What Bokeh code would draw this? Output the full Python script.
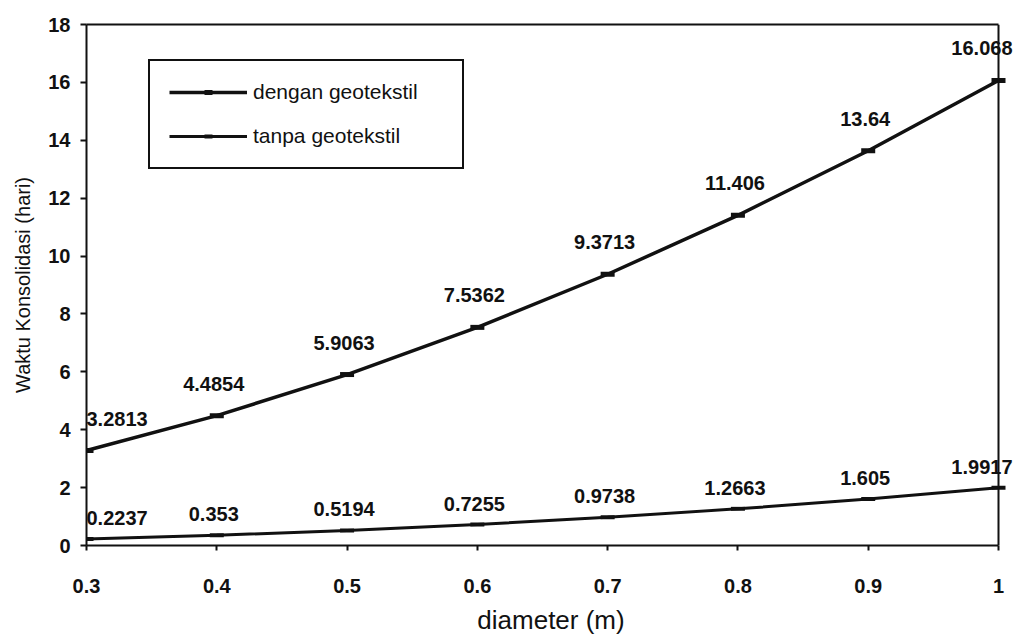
from bokeh.plotting import figure
from bokeh.models import (ColumnDataSource, LabelSet, Legend, LegendItem, Range1d,
                          FixedTicker, LinearAxis, Span)
from bokeh.core.properties import value
from bokeh.embed import file_html
from bokeh.resources import INLINE

# Consolidation time of the soil versus drain diameter
diameter = [0.3, 0.4, 0.5, 0.6, 0.7, 0.8, 0.9, 1.0]
dengan_geotekstil = [3.2813, 4.4854, 5.9063, 7.5362, 9.3713, 11.406, 13.64, 16.068]
tanpa_geotekstil = [0.2237, 0.353, 0.5194, 0.7255, 0.9738, 1.2663, 1.605, 1.9917]
dengan_labels = ["3.2813", "4.4854", "5.9063", "7.5362", "9.3713", "11.406", "13.64", "16.068"]
tanpa_labels = ["0.2237", "0.353", "0.5194", "0.7255", "0.9738", "1.2663", "1.605", "1.9917"]

x_ticks = [0.3, 0.4, 0.5, 0.6, 0.7, 0.8, 0.9, 1.0]
x_tick_labels = ["0.3", "0.4", "0.5", "0.6", "0.7", "0.8", "0.9", "1"]
y_ticks = [0, 2, 4, 6, 8, 10, 12, 14, 16, 18]

FONT = "Liberation Sans"
INK = "#111111"

W, H = 1021, 638
LEFT, TOP, BOTTOM = 86, 24, 93
BOX_W = 912          # pixel width of the boxed area from x=0.3 to x=1.0
RIGHT = 6            # frame runs a little past x=1.0 so end labels are not cut

x0, x1 = x_ticks[0], x_ticks[-1]
frame_w = W - LEFT - RIGHT
x_end = x0 + (x1 - x0) * frame_w / BOX_W

p = figure(width=W, height=H, output_backend="svg", toolbar_location=None,
           x_range=Range1d(x0, x_end), y_range=Range1d(0, 18),
           min_border_left=LEFT, min_border_right=RIGHT, min_border_top=TOP,
           min_border_bottom=BOTTOM)

p.background_fill_color = "white"
p.border_fill_color = "white"
p.outline_line_color = None
p.xgrid.visible = False
p.ygrid.visible = False

# axes
p.xaxis.ticker = FixedTicker(ticks=x_ticks)
p.xaxis.major_label_overrides = {t: s for t, s in zip(x_ticks, x_tick_labels)}
p.xaxis.bounds = (x0, x1)
p.yaxis.ticker = FixedTicker(ticks=y_ticks)
for ax in (p.xaxis, p.yaxis):
    ax.axis_line_color = INK
    ax.axis_line_width = 2
    ax.major_tick_line_color = INK
    ax.major_tick_line_width = 2
    ax.major_tick_in = 0
    ax.minor_tick_line_color = None
    ax.major_label_text_font = FONT
    ax.major_label_text_font_style = "bold"
    ax.major_label_text_font_size = "20px"
    ax.major_label_text_color = INK
    ax.axis_label_text_font = FONT
    ax.axis_label_text_font_style = "normal"
    ax.axis_label_text_color = INK

p.xaxis.major_tick_out = 5
p.xaxis.major_label_standoff = 28
p.xaxis.axis_label = "diameter (m)"
p.xaxis.axis_label_text_font_size = "26px"
p.xaxis.axis_label_standoff = 9

p.yaxis.major_tick_out = 6
p.yaxis.major_label_standoff = 10
p.yaxis.axis_label = "Waktu Konsolidasi (hari)"
p.yaxis.axis_label_text_font_size = "20px"
p.yaxis.axis_label_standoff = 11

# top and right edges of the plot box
top_edge = LinearAxis(bounds=(x0, x1), ticker=FixedTicker(ticks=[]),
                      axis_line_color=INK, axis_line_width=2,
                      major_tick_line_color=None, minor_tick_line_color=None,
                      major_label_text_font_size="0px")
p.add_layout(top_edge, "above")
p.add_layout(Span(location=x1, dimension="height", line_color=INK, line_width=2))

src_a = ColumnDataSource(data=dict(x=diameter, y=dengan_geotekstil))
src_b = ColumnDataSource(data=dict(x=diameter, y=tanpa_geotekstil))

l1 = p.line("x", "y", source=src_a, line_color=INK, line_width=3.5)
s1 = p.scatter("x", "y", source=src_a, marker="dash", size=14, line_color=INK,
               line_width=5)
l2 = p.line("x", "y", source=src_b, line_color=INK, line_width=3)
s2 = p.scatter("x", "y", source=src_b, marker="dash", size=14, line_color=INK,
               line_width=4)


def label_source(xs, ys, texts):
    n = len(xs)
    align = ["center"] * n
    xoff = [-3] * n
    align[0], xoff[0] = "left", 0
    align[-1], xoff[-1] = "right", 14
    return ColumnDataSource(data=dict(x=xs, y=ys, t=texts, align=align, xoff=xoff))


for ys, texts, dy in ((dengan_geotekstil, dengan_labels, 32),
                      (tanpa_geotekstil, tanpa_labels, 21)):
    lab = LabelSet(x="x", y="y", text="t", source=label_source(diameter, ys, texts),
                   text_align="align", x_offset="xoff", y_offset=dy,
                   text_baseline="middle", text_font=value(FONT),
                   text_font_style="bold", text_font_size="20px", text_color=INK,
                   level="overlay")
    p.add_layout(lab)

legend = Legend(items=[LegendItem(label="dengan geotekstil", renderers=[l1, s1]),
                       LegendItem(label="tanpa geotekstil", renderers=[l2, s2])],
                location=(62, 376), margin=0, padding=19, spacing=20,
                glyph_width=78, glyph_height=20, label_height=20, label_standoff=6,
                label_width=190,
                label_text_font=FONT, label_text_font_size="21px",
                label_text_color=INK, border_line_color=INK, border_line_width=2,
                border_line_alpha=1,
                background_fill_color="white", background_fill_alpha=1)
p.add_layout(legend)

open("out.html", "w").write(file_html(p, INLINE))
